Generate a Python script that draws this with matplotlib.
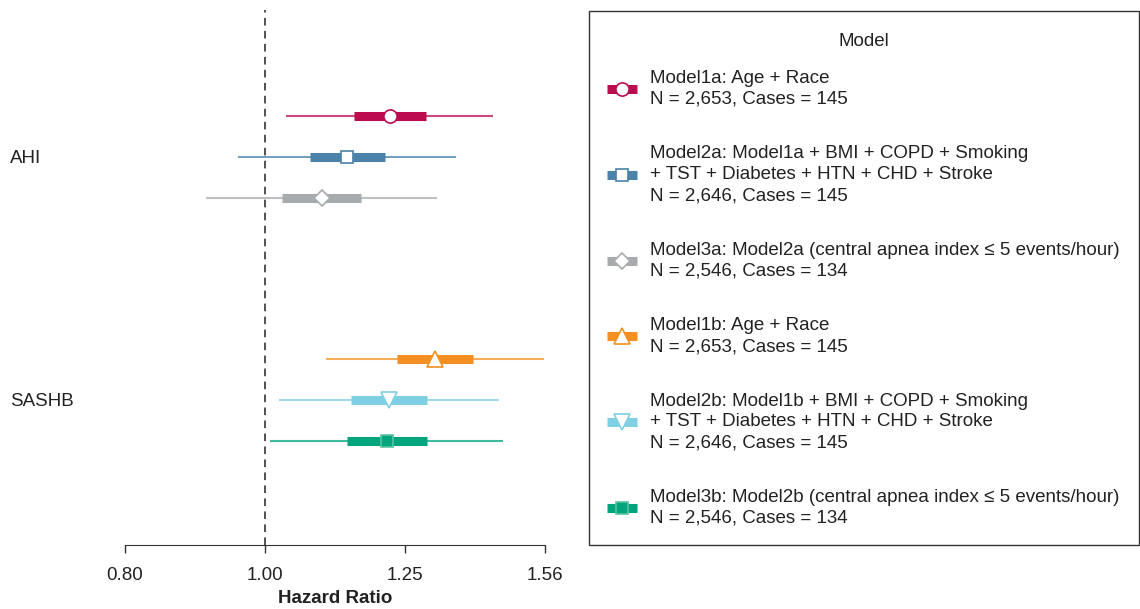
import numpy as np
import matplotlib
matplotlib.use("Agg")
import matplotlib.pyplot as plt
from matplotlib.lines import Line2D
from matplotlib.patches import Rectangle

plt.rcParams["font.family"] = ["Liberation Sans", "DejaVu Sans"]

# --- data --------------------------------------------------------------
exposures = ["AHI", "SASHB"]
models = ["Model1a", "Model2a", "Model3a", "Model1b", "Model2b", "Model3b"]
exposure = ["AHI", "AHI", "AHI", "SASHB", "SASHB", "SASHB"]
hr = [1.220, 1.140, 1.095, 1.311, 1.219, 1.215]
lo95 = [1.034, 0.958, 0.910, 1.102, 1.023, 1.008]
hi95 = [1.438, 1.356, 1.315, 1.560, 1.452, 1.461]
lo_in = [1.152, 1.074, 1.027, 1.234, 1.147, 1.140]
hi_in = [1.293, 1.211, 1.165, 1.393, 1.295, 1.295]
labels = [
    "Model1a: Age + Race\nN = 2,653, Cases = 145",
    "Model2a: Model1a + BMI + COPD + Smoking\n+ TST + Diabetes + HTN + CHD + Stroke\nN = 2,646, Cases = 145",
    "Model3a: Model2a (central apnea index \u2264 5 events/hour)\nN = 2,546, Cases = 134",
    "Model1b: Age + Race\nN = 2,653, Cases = 145",
    "Model2b: Model1b + BMI + COPD + Smoking\n+ TST + Diabetes + HTN + CHD + Stroke\nN = 2,646, Cases = 145",
    "Model3b: Model2b (central apnea index \u2264 5 events/hour)\nN = 2,546, Cases = 134",
]
xticks = [0.80, 1.00, 1.25, 1.5625]
xticklabels = ["0.80", "1.00", "1.25", "1.56"]

# --- styles --------------------------------------------------------------
colors = ["#BA0C4F", "#4A82A9", "#A7ABAD", "#F39020", "#80D0E3", "#00A57E"]
markers = ["o", "s", "D", "^", "v", "s"]
msizes = [9.5, 9, 8.5, 12, 12, 9]
filled = [False, False, False, False, False, True]
dodge = [0.169, 0.0, -0.169, 0.169, 0.0, -0.169]
ypos = {"AHI": 2, "SASHB": 1}
FS = 13.5
TXT = "#222222"
W, H = 1140, 609

fig = plt.figure(figsize=(W / 100, H / 100), dpi=100)
ax = fig.add_axes([125 / W, 1 - 545 / H, 420 / W, 535 / H])

ax.axvline(1.0, color="#222222", ls=(0, (5, 3.5)), lw=1.1, zorder=1)

handles = []
for i in range(len(models)):
    y = ypos[exposure[i]] + dodge[i]
    c = colors[i]
    ax.plot([lo95[i], hi95[i]], [y, y], color=c, lw=1.5, alpha=0.75,
            solid_capstyle="butt", clip_on=False, zorder=2)
    ax.plot([lo_in[i], hi_in[i]], [y, y], color=c, lw=6.5,
            solid_capstyle="butt", clip_on=False, zorder=3)
    mfc = c if filled[i] else "white"
    mec = "#5CC3A3" if filled[i] else c
    ax.plot(hr[i], y, marker=markers[i], ms=msizes[i], mfc=mfc, mec=mec,
            mew=1.2, ls="none", clip_on=False, zorder=4)
    handles.append((Line2D([], [], color=c, lw=6.5, solid_capstyle="butt"),
                    Line2D([], [], marker=markers[i], ms=msizes[i], mfc=mfc,
                           mec=mec, mew=1.2, ls="none")))

ax.set_xscale("log")
ax.set_xlim(0.80, 1.5625)
ax.set_ylim(0.403, 2.605)
ax.set_xticks(xticks)
ax.set_xticklabels(xticklabels)
ax.minorticks_off()
ax.set_yticks([ypos[e] for e in exposures])
ax.set_yticklabels(exposures)
for lab in ax.get_yticklabels():
    lab.set_ha("left")
ax.tick_params(axis="y", length=0, pad=115 * 0.72, labelsize=FS, labelcolor=TXT)
ax.tick_params(axis="x", length=5.5, width=1, color="#333333", pad=10,
               labelsize=FS, labelcolor=TXT)
ax.set_xlabel("Hazard Ratio", fontsize=FS, fontweight="bold", color=TXT, labelpad=5)

for s in ["top", "right", "left"]:
    ax.spines[s].set_visible(False)
ax.spines["bottom"].set_bounds(0.80, 1.5625)
ax.spines["bottom"].set_color("#333333")

# legend: frame and title drawn separately so the spacing matches
fig.add_artist(Rectangle((589 / W, 1 - 545 / H), 550 / W, 534 / H,
                         transform=fig.transFigure, fill=False,
                         ec="#333333", lw=1.0))
fig.text(864 / W, 1 - 41 / H, "Model", ha="center", va="center",
         fontsize=FS, color=TXT)
leg = fig.legend(handles, labels, loc="upper left",
                 bbox_to_anchor=(607 / W, 1 - 70 / H), fontsize=FS,
                 frameon=False, borderpad=0, labelspacing=2.0,
                 handlelength=1.6, handletextpad=0.7, borderaxespad=0)
for t in leg.get_texts():
    t.set_color(TXT)
    t.set_linespacing(1.3)

fig.savefig("out.png", dpi=100)
